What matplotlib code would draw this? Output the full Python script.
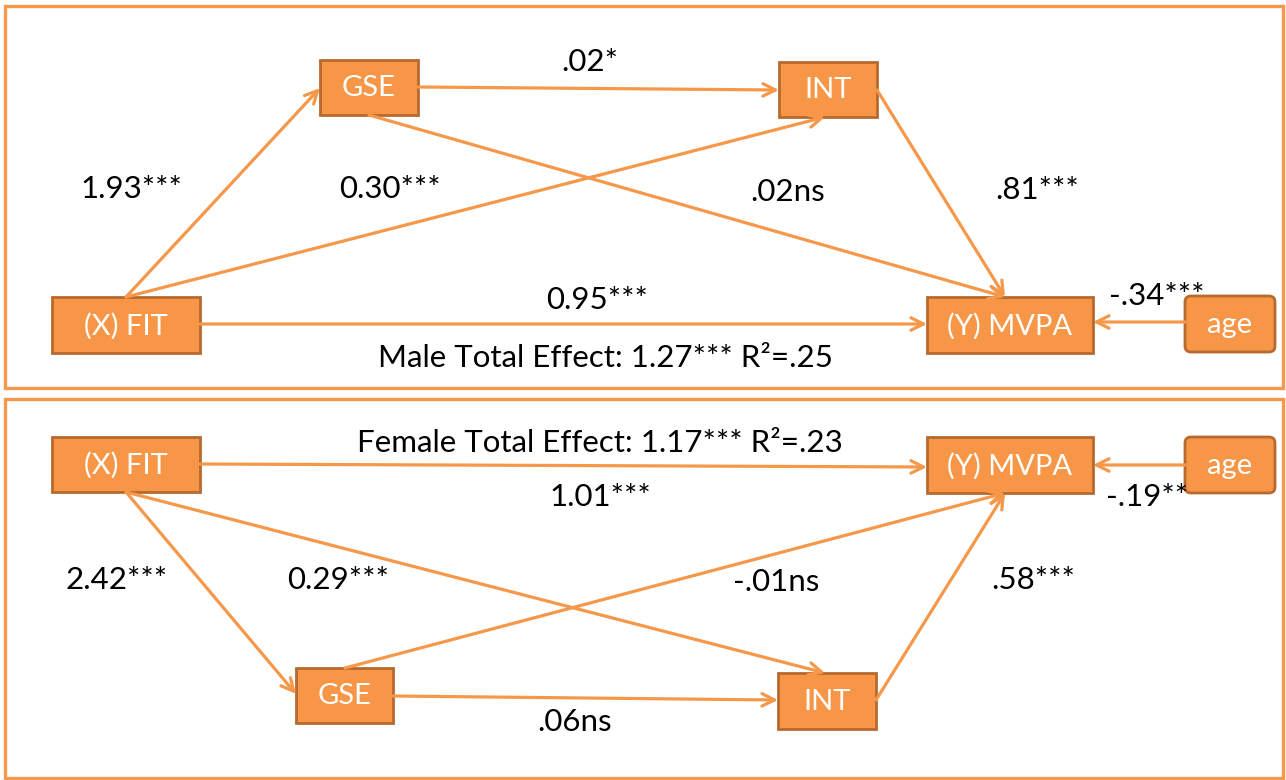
import matplotlib.pyplot as plt
from matplotlib.patches import Rectangle, FancyBboxPatch

plt.rcParams['font.family'] = ['Lato', 'DejaVu Sans']

# path coefficients (male / female)
male_paths = ['1.93***', '0.30***', '.02*', '.02ns', '.81***', '0.95***', '-.34***']
female_paths = ['2.42***', '0.29***', '.06ns', '-.01ns', '.58***', '1.01***', '-.19**']
male_total = 'Male Total Effect: 1.27*** R\u00b2=.25'
female_total = 'Female Total Effect: 1.17*** R\u00b2=.23'
node_names = ['(X) FIT', 'GSE', 'INT', '(Y) MVPA', 'age']

ORANGE = '#F79646'
EDGE = '#B8692F'
LINE = '#F5984A'

# node boxes: x0, y0, x1, y1 (pixel layout)
top_nodes = {'(X) FIT': (52, 297, 200, 353), 'GSE': (320, 60, 418, 115),
             'INT': (779, 62, 877, 117), '(Y) MVPA': (927, 297, 1093, 353),
             'age': (1185, 296, 1275, 352)}
bot_nodes = {'(X) FIT': (52, 437, 200, 492), 'GSE': (296, 668, 393, 723),
             'INT': (778, 673, 876, 729), '(Y) MVPA': (927, 437, 1093, 493),
             'age': (1185, 437, 1275, 493)}

fig = plt.figure(figsize=(12.86, 7.8), dpi=100)
ax = fig.add_axes([0, 0, 1, 1])
ax.set_xlim(0, 1286)
ax.set_ylim(780, 0)
ax.axis('off')

# panel frames
for y0, y1 in [(6, 388), (399, 778)]:
    ax.add_patch(Rectangle((5, y0), 1278, y1 - y0, fill=False, ec=LINE, lw=2.4))


def arrow(p0, p1):
    ax.annotate('', xy=p1, xytext=p0,
                arrowprops=dict(arrowstyle='->,head_length=0.9,head_width=0.45',
                                color=LINE, lw=2.3, shrinkA=0, shrinkB=0))


def draw_nodes(nodes):
    for name in node_names:
        x0, y0, x1, y1 = nodes[name]
        if name == 'age':
            ax.add_patch(FancyBboxPatch((x0 + 6, y0 + 6), x1 - x0 - 12, y1 - y0 - 12,
                                        boxstyle='round,pad=6', fc=ORANGE, ec=EDGE, lw=2))
        else:
            ax.add_patch(Rectangle((x0, y0), x1 - x0, y1 - y0, fc=ORANGE, ec=EDGE, lw=2))
        ax.text((x0 + x1) / 2, (y0 + y1) / 2 + 1, name, color='white', fontsize=21,
                ha='center', va='center')


def lbl(x, y, s):
    ax.text(x, y, s, fontsize=22.5, ha='center', va='center', color='black')


# top panel (male)
arrow((126, 297), (320, 88))
arrow((126, 297), (825, 117))
arrow((418, 87), (779, 90))
arrow((369, 115), (1005, 297))
arrow((877, 90), (1005, 297))
arrow((200, 324), (927, 324))
arrow((1185, 322), (1093, 322))
draw_nodes(top_nodes)
for (x, y), s in zip([(131, 189), (390, 189), (590, 62), (788, 192), (1037, 190),
                      (597, 300), (1157, 296)], male_paths):
    lbl(x, y, s)
lbl(606, 358, male_total)

# bottom panel (female)
arrow((200, 464), (927, 467))
arrow((126, 492), (296, 694))
arrow((126, 492), (825, 673))
arrow((345, 668), (1005, 493))
arrow((393, 696), (778, 700))
arrow((876, 700), (1005, 493))
arrow((1185, 465), (1093, 465))
draw_nodes(bot_nodes)
for (x, y), s in zip([(117, 580), (338, 580), (575, 722), (776, 582), (1033, 580),
                      (600, 497), (1147, 497)], female_paths):
    lbl(x, y, s)
lbl(600, 443, female_total)

fig.savefig('out.png', dpi=100)
